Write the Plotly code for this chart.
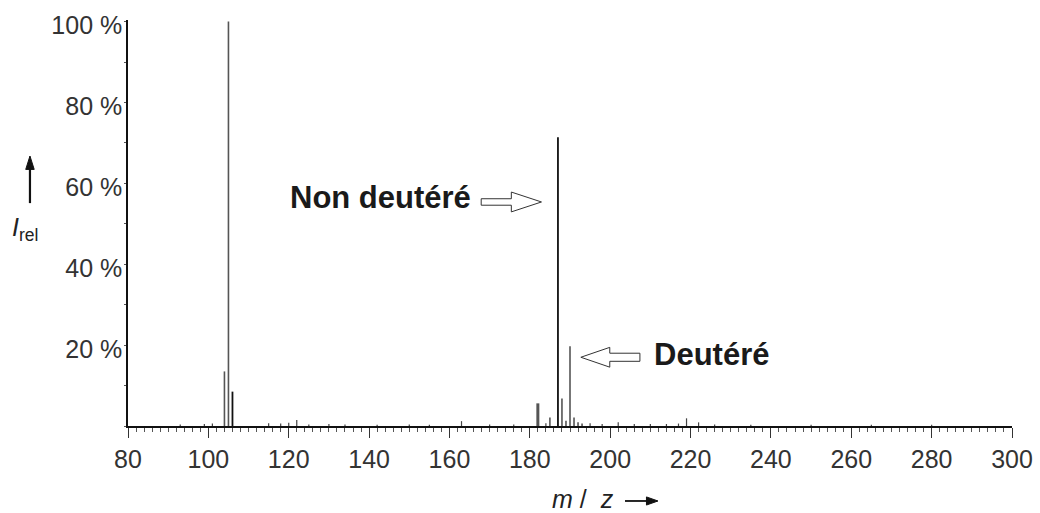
import plotly.graph_objects as go

# ---- data ----
# main peaks drawn in grey
grey_mz = [104, 105, 185, 188, 189, 190, 191, 192, 193]
grey_int = [13.5, 100.0, 2.1, 6.8, 1.3, 19.7, 2.1, 0.9, 0.6]
# peaks drawn in black
black_mz = [106, 187]
black_int = [8.5, 71.4]
# broad fragment at 182
thick_mz = [182]
thick_int = [5.6]
# small peaks / noise above the baseline
minor_mz = [93, 99, 101, 115, 118, 120, 122, 125, 130, 134, 142, 150, 155, 163, 170,
            176, 184, 195, 198, 202, 206, 210, 214, 217, 219, 222, 226, 235, 250, 265, 280]
minor_int = [0.4, 0.5, 0.6, 0.7, 0.6, 0.8, 1.5, 0.4, 0.5, 0.4, 0.3, 0.4, 0.3, 1.2, 0.4,
             0.4, 0.7, 0.7, 0.5, 0.9, 0.5, 0.5, 0.5, 0.6, 1.9, 0.9, 0.4, 0.3, 0.3, 0.3, 0.3]

y_tickvals = [20, 40, 60, 80, 100]
y_ticktext = ["20 %", "40 %", "60 %", "80 %", "100 %"]
x_tickvals = [80, 100, 120, 140, 160, 180, 200, 220, 240, 260, 280, 300]


def stems(mz, inten):
    xs, ys = [], []
    for m, h in zip(mz, inten):
        xs += [m, m, None]
        ys += [0, h, None]
    return xs, ys


fig = go.Figure()
for mz, inten, col, w in [
    (minor_mz, minor_int, "#444444", 1.2),
    (grey_mz, grey_int, "#555555", 1.6),
    (thick_mz, thick_int, "#555555", 3.0),
    (black_mz, black_int, "#111111", 1.8),
]:
    xs, ys = stems(mz, inten)
    fig.add_trace(go.Scatter(x=xs, y=ys, mode="lines",
                             line=dict(color=col, width=w),
                             hoverinfo="skip", showlegend=False))

# hollow arrows (data coordinates)
arrow_col = "#333333"
def hollow_arrow(x_tail, x_neck, x_tip, yc, shaft, head):
    return (f"M {x_tail},{yc-shaft} L {x_neck},{yc-shaft} L {x_neck},{yc-head} "
            f"L {x_tip},{yc} L {x_neck},{yc+head} L {x_neck},{yc+shaft} "
            f"L {x_tail},{yc+shaft} Z")

fig.add_shape(type="path", xref="x", yref="y",
              path=hollow_arrow(167.9, 175.4, 182.9, 55.4, 0.8, 2.45),
              line=dict(color=arrow_col, width=1), fillcolor="white")
fig.add_shape(type="path", xref="x", yref="y",
              path=hollow_arrow(207.4, 199.9, 192.7, 17.0, 1.0, 2.45),
              line=dict(color=arrow_col, width=1), fillcolor="white")

font_main = "Liberation Sans, Arial, sans-serif"
fig.add_annotation(x=165.8, y=56.4, xref="x", yref="y", xanchor="right", yanchor="middle",
                   text="<b>Non deutéré</b>", showarrow=False,
                   font=dict(family=font_main, size=31, color="#1a1a1a"))
fig.add_annotation(x=210.4, y=17.6, xref="x", yref="y", xanchor="left", yanchor="middle",
                   text="<b>Deutéré</b>", showarrow=False,
                   font=dict(family=font_main, size=31, color="#1a1a1a"))

# y-axis title: up arrow (shapes, paper coords) + I_rel
ax_x = -0.1109
fig.add_shape(type="line", xref="paper", yref="paper", x0=ax_x, x1=ax_x,
              y0=0.549, y1=0.64, line=dict(color="#111111", width=2.2))
fig.add_shape(type="path", xref="paper", yref="paper",
              path=f"M {ax_x-0.0048},0.632 L {ax_x},0.665 L {ax_x+0.0048},0.632 Z",
              line=dict(color="#111111", width=1), fillcolor="#111111")
fig.add_annotation(x=-0.117, y=0.485, xref="paper", yref="paper",
                   text="<i>I</i><sub>rel</sub>", showarrow=False,
                   xanchor="center", yanchor="middle",
                   font=dict(family=font_main, size=25, color="#222222"))
# x-axis title: m / z ->
fig.add_annotation(x=0.4774, y=-0.180, xref="paper", yref="paper",
                   text="<i>m</i> / \u00a0<i>z</i>", showarrow=False,
                   xanchor="left", yanchor="middle",
                   font=dict(family=font_main, size=25, color="#222222"))
fig.add_shape(type="line", xref="paper", yref="paper", x0=0.5622, x1=0.590,
              y0=-0.1847, y1=-0.1847, line=dict(color="#111111", width=1.8))
fig.add_shape(type="path", xref="paper", yref="paper",
              path="M 0.5865,-0.1747 L 0.5995,-0.1847 L 0.5865,-0.1947 Z",
              line=dict(color="#111111", width=1), fillcolor="#111111")

fig.update_layout(
    width=1040, height=513,
    margin=dict(l=128, r=28, t=20, b=87, autoexpand=False),
    paper_bgcolor="white", plot_bgcolor="white",
    font=dict(family=font_main, color="#333333"),
    xaxis=dict(range=[80, 300], tickvals=x_tickvals, showgrid=False, zeroline=False,
               automargin=False,
               showline=True, linecolor="#111111", linewidth=1.5,
               ticks="outside", ticklen=10, tickwidth=1, tickcolor="#333333",
               tickfont=dict(size=25, color="#333333"),
               minor=dict(dtick=2, ticks="outside", ticklen=4, tickcolor="#555555", showgrid=False)),
    yaxis=dict(range=[0, 100.4], tickvals=y_tickvals, ticktext=y_ticktext, showgrid=False,
               automargin=False,
               zeroline=False, showline=True, linecolor="#111111", linewidth=1.5,
               ticks="outside", ticklen=2, tickcolor="#555555",
               tickfont=dict(size=25, color="#333333"),
               minor=dict(dtick=10, ticks="outside", ticklen=2, tickcolor="#555555", showgrid=False),
               ticklabelshift=4, ticklabelstandoff=-3),
)

fig.write_html("out.html", config={"displayModeBar": False},
               post_script="document.body.style.margin='0px';document.body.style.overflow='hidden';")
